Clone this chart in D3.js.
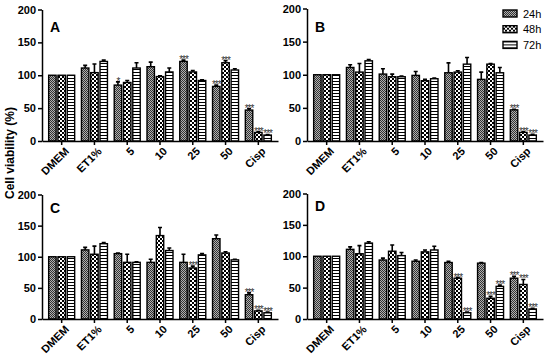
<!DOCTYPE html>
<html>
<head>
<meta charset="utf-8">
<script src="https://cdn.jsdelivr.net/npm/d3@7"></script>
<style>
  body { margin: 0; background: #fff; }
  svg { display: block; font-family: "Liberation Sans", Arial, sans-serif; }
  .axis path, .axis line { stroke: #000; stroke-width: 1.5; }
  .axis text { font-size: 11px; font-weight: bold; fill: #000; }
</style>
</head>
<body>
<div id="chart"></div>
<script>
const groups = ["DMEM", "ET1%", "5", "10", "25", "50", "Cisp"];
const series = ["24h", "48h", "72h"];
const yTicks = [0, 50, 100, 150, 200];

// means per series (24h, 48h, 72h)
const aMeans = [[100, 111, 85, 113, 121, 83, 47], [100, 104, 89, 98, 105, 119, 13], [100, 121, 111, 105, 92, 108, 9]];
const aErrs  = [[0, 4, 5, 7, 2, 2, 2], [0, 13, 3, 1, 2, 3, 1], [0, 2, 8, 6, 1, 2, 1]];
const aSig   = [["", "", "*", "", "***", "***", "***"], ["", "", "", "", "", "***", "***"], ["", "", "", "", "", "", "***"]];

const bMeans = [[100, 111, 101, 99, 103, 93, 47], [100, 104, 97, 91, 104, 116, 13], [100, 121, 97, 94, 116, 103, 9]];
const bErrs  = [[0, 4, 8, 6, 15, 11, 1], [0, 13, 4, 2, 2, 1, 1], [0, 2, 1, 1, 10, 8, 1]];
const bSig   = [["", "", "", "", "", "", "***"], ["", "", "", "", "", "", "***"], ["", "", "", "", "", "", "***"]];

const cMeans = [[100, 111, 105, 91, 91, 129, 39], [100, 104, 91, 134, 82, 106, 13], [100, 121, 91, 110, 103, 95, 10]];
const cErrs  = [[0, 4, 1, 5, 13, 6, 3], [0, 13, 13, 13, 3, 2, 1], [0, 2, 1, 4, 2, 1, 1]];
const cSig   = [["", "", "", "", "", "", "***"], ["", "", "", "", "***", "", "***"], ["", "", "", "", "", "", "***"]];

const dMeans = [[100, 111, 94, 92, 90, 89, 65], [100, 104, 108, 107, 65, 33, 55], [100, 121, 101, 110, 10, 52, 16]];
const dErrs  = [[0, 4, 3, 2, 2, 1, 3], [0, 13, 10, 3, 1, 3, 8], [0, 2, 5, 6, 1, 2, 1]];
const dSig   = [["", "", "", "", "", "", "***"], ["", "", "", "", "***", "***", "***"], ["", "", "", "", "***", "***", "***"]];

const panels = [
    { label: "A", x0: 42, top: 9.5, bottom: 141, letterY: 32, means: aMeans, errs: aErrs, sig: aSig },
    { label: "B", x0: 307, top: 8.5, bottom: 141, letterY: 32, means: bMeans, errs: bErrs, sig: bSig },
    { label: "C", x0: 42, top: 194.5, bottom: 319, letterY: 213, means: cMeans, errs: cErrs, sig: cSig },
    { label: "D", x0: 307, top: 193.5, bottom: 319, letterY: 211, means: dMeans, errs: dErrs, sig: dSig }
];

const width = 550, height = 355;
const svg = d3.select("#chart").append("svg")
    .attr("width", width)
    .attr("height", height);

// fill patterns
const defs = svg.append("defs");
const p24 = defs.append("pattern").attr("id", "p24")
    .attr("patternUnits", "userSpaceOnUse").attr("width", 2).attr("height", 2);
p24.append("rect").attr("width", 2).attr("height", 2).attr("fill", "#b0b0b0");
p24.append("rect").attr("width", 1).attr("height", 1).attr("fill", "#333");
p24.append("rect").attr("x", 1).attr("y", 1).attr("width", 1).attr("height", 1).attr("fill", "#333");

const p48 = defs.append("pattern").attr("id", "p48")
    .attr("patternUnits", "userSpaceOnUse").attr("width", 4).attr("height", 4);
p48.append("rect").attr("width", 4).attr("height", 4).attr("fill", "#000");
p48.append("rect").attr("width", 2).attr("height", 2).attr("fill", "#fff");
p48.append("rect").attr("x", 2).attr("y", 2).attr("width", 2).attr("height", 2).attr("fill", "#fff");

const p72 = defs.append("pattern").attr("id", "p72")
    .attr("patternUnits", "userSpaceOnUse").attr("width", 4).attr("height", 3);
p72.append("rect").attr("width", 4).attr("height", 3).attr("fill", "#fff");
p72.append("rect").attr("width", 4).attr("height", 1).attr("fill", "#000");

const fills = ["url(#p24)", "url(#p48)", "url(#p72)"];

panels.forEach(p => {
    const g = svg.append("g");

    const x = d3.scaleBand().domain(groups)
        .range([p.x0, p.x0 + 236])
        .paddingInner(0).paddingOuter(0.1);
    const xs = d3.scaleBand().domain(series)
        .range([-13, 13])
        .paddingInner(0.2);
    const y = d3.scaleLinear().domain([0, 200]).range([p.bottom, p.top]);

    const cells = [];
    series.forEach((s, si) => {
        groups.forEach((gr, gi) => {
            cells.push({ s, si, gr, v: p.means[si][gi], e: p.errs[si][gi], sig: p.sig[si][gi] });
        });
    });

    const bx = d => x(d.gr) + x.bandwidth() / 2 + xs(d.s);
    const cx = d => bx(d) + xs.bandwidth() / 2;

    // error bars (upper only)
    g.selectAll(".err").data(cells.filter(d => d.e > 0)).join("path")
        .attr("class", "err")
        .attr("d", d => `M${cx(d)},${y(d.v)}V${y(d.v + d.e)}M${cx(d) - 2},${y(d.v + d.e)}H${cx(d) + 2}`)
        .attr("stroke", "#000").attr("stroke-width", 1.6).attr("fill", "none");

    g.selectAll(".bar").data(cells).join("rect")
        .attr("class", "bar")
        .attr("x", bx)
        .attr("width", xs.bandwidth())
        .attr("y", d => y(d.v))
        .attr("height", d => y(0) - y(d.v))
        .attr("fill", d => fills[d.si])
        .attr("stroke", "#000").attr("stroke-width", 1.4);

    g.selectAll(".sig").data(cells.filter(d => d.sig)).join("text")
        .attr("class", "sig")
        .attr("x", cx)
        .attr("y", d => y(d.v + d.e) + 3)
        .attr("text-anchor", "middle")
        .attr("font-size", 10)
        .attr("letter-spacing", -1)
        .attr("fill", "#333")
        .text(d => d.sig);

    // axes
    g.append("g").attr("class", "axis")
        .attr("transform", `translate(${p.x0},0)`)
        .call(d3.axisLeft(y).tickValues(yTicks).tickSize(4).tickSizeOuter(0).tickPadding(2));

    const xa = g.append("g").attr("class", "axis")
        .attr("transform", `translate(0,${p.bottom})`)
        .call(d3.axisBottom(x).tickSize(4).tickSizeOuter(0));
    xa.selectAll("text")
        .attr("text-anchor", "end")
        .attr("dx", 0).attr("dy", 0)
        .attr("transform", "translate(3,6) rotate(-45)");

    g.append("text")
        .attr("x", p.x0 + 8)
        .attr("y", p.letterY)
        .attr("font-size", 14)
        .attr("font-weight", "bold")
        .text(p.label);
});

// y title
svg.append("text")
    .attr("transform", "translate(14,153) rotate(-90)")
    .attr("text-anchor", "middle")
    .attr("font-size", 12)
    .attr("font-weight", "bold")
    .text("Cell viability (%)");

// legend
const legend = svg.append("g").attr("transform", "translate(503,10)");
series.forEach((s, i) => {
    const row = legend.append("g").attr("transform", `translate(0,${i * 15.7})`);
    row.append("rect").attr("width", 14).attr("height", 7)
        .attr("fill", fills[i]).attr("stroke", "#000").attr("stroke-width", 1.4);
    row.append("text").attr("x", 20).attr("y", 7.5)
        .attr("font-size", 11).text(s);
});
</script>
</body>
</html>
